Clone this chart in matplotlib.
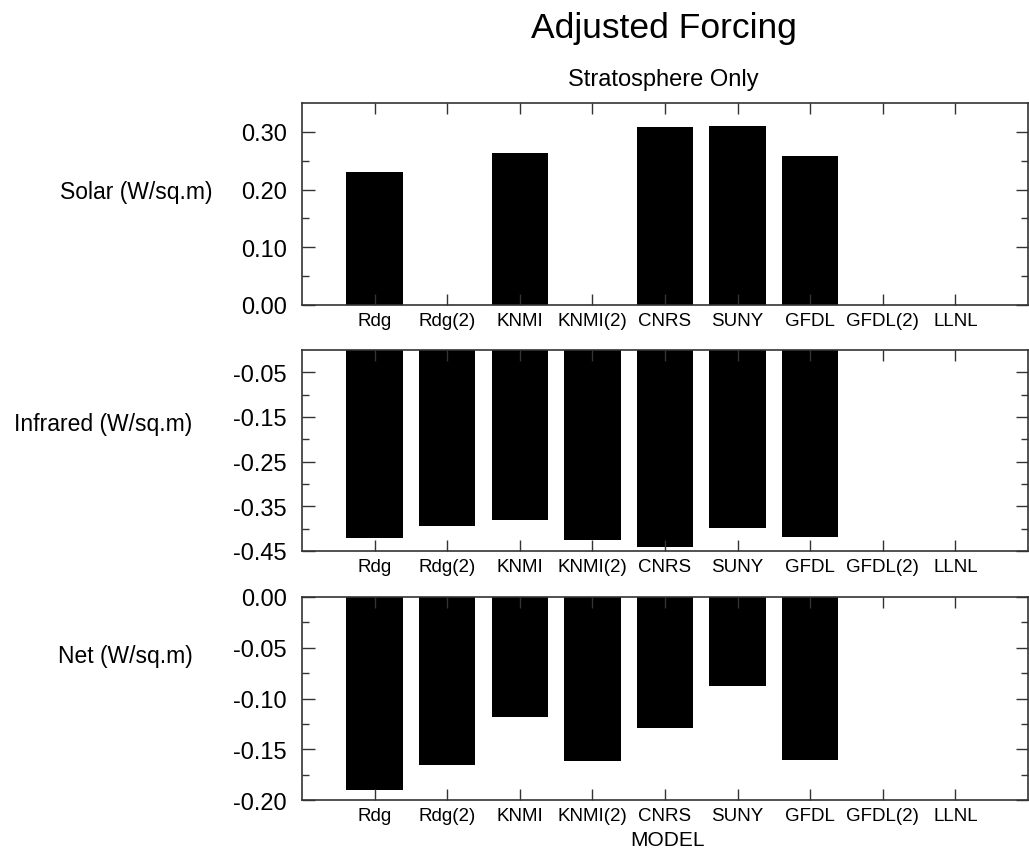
import numpy as np
import matplotlib
matplotlib.use("Agg")
import matplotlib.pyplot as plt
from matplotlib.ticker import MultipleLocator, FixedLocator

models = ["Rdg", "Rdg(2)", "KNMI", "KNMI(2)", "CNRS", "SUNY", "GFDL", "GFDL(2)", "LLNL"]
solar = [0.230, np.nan, 0.263, np.nan, 0.309, 0.310, 0.258, np.nan, np.nan]
infrared = [-0.420, -0.395, -0.381, -0.425, -0.440, -0.398, -0.419, np.nan, np.nan]
net = [-0.190, -0.166, -0.118, -0.162, -0.129, -0.088, -0.161, np.nan, np.nan]

row_labels = ["Solar (W/sq.m)", "Infrared (W/sq.m)", "Net (W/sq.m)"]
title = "Adjusted Forcing"
subtitle = "Stratosphere Only"
xlabel = "MODEL"

plt.rcParams['font.family'] = ['Liberation Sans', 'DejaVu Sans']

W, H = 1029, 853
fig = plt.figure(figsize=(W / 100, H / 100), dpi=100)

def px_ax(left, right, top, bottom):
    return [left / W, 1 - bottom / H, (right - left) / W, (bottom - top) / H]

panels = [
    dict(data=solar, rect=px_ax(302, 1028, 104, 306), ylim=(0, 0.35),
         major=[0.0, 0.1, 0.2, 0.3], minor=[0.05, 0.15, 0.25],
         fmt="{:.2f}", label_y=193, label_right=213),
    dict(data=infrared, rect=px_ax(302, 1028, 351, 552), ylim=(-0.45, 0.0),
         major=[-0.45, -0.35, -0.25, -0.15, -0.05], minor=[-0.40, -0.30, -0.20, -0.10],
         fmt="{:.2f}", label_y=425, label_right=192),
    dict(data=net, rect=px_ax(302, 1028, 598, 801), ylim=(-0.20, 0.0),
         major=[-0.20, -0.15, -0.10, -0.05, 0.0], minor=[-0.175, -0.125, -0.075, -0.025],
         fmt="{:.2f}", label_y=657, label_right=193),
]

x = np.arange(len(models))
spine_color = "#333333"
for p, lab in zip(panels, row_labels):
    ax = fig.add_axes(p["rect"])
    ax.bar(x, p["data"], width=0.775, color="black", edgecolor="none")
    ax.set_xlim(-1, 9)
    ax.set_ylim(*p["ylim"])
    ax.yaxis.set_major_locator(FixedLocator(p["major"]))
    ax.yaxis.set_minor_locator(FixedLocator(p["minor"]))
    ax.set_yticklabels([p["fmt"].format(v).replace("-0.00", "0.00") for v in p["major"]])
    ax.set_xticks(x)
    ax.set_xticklabels(models, fontsize=13.5)
    ax.tick_params(axis='y', which='major', direction='in', length=9, width=1,
                   labelsize=17, pad=11, right=True, color=spine_color)
    ax.tick_params(axis='y', which='minor', direction='in', length=5, width=1,
                   right=True, color=spine_color)
    ax.tick_params(axis='x', which='major', direction='in', length=8, width=1,
                   top=True, pad=5, color=spine_color)
    for s in ax.spines.values():
        s.set_color(spine_color)
        s.set_linewidth(1.2)
    fig.text(p["label_right"] / W, 1 - p["label_y"] / H, lab, ha='right', va='center',
             fontsize=16.5)

fig.text(664 / W, 1 - 38 / H, title, ha='center', va='baseline', fontsize=25.5)
fig.text(663 / W, 1 - 86 / H, subtitle, ha='center', va='baseline', fontsize=17)
fig.text(668 / W, 1 - 841 / H, xlabel, ha='center', va='center', fontsize=15)

fig.savefig("out.png", dpi=100)
